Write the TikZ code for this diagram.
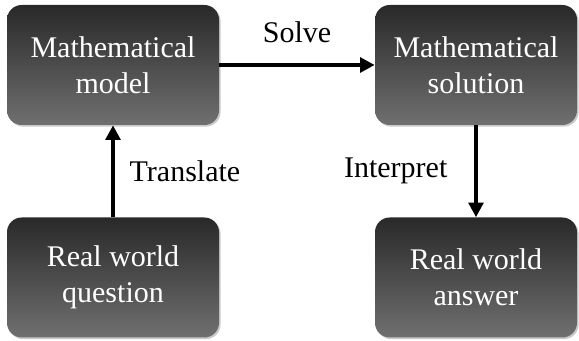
\documentclass[tikz,border=0pt]{standalone}
\usepackage{fontspec}
\setmainfont{Liberation Serif}
\usetikzlibrary{arrows.meta,shadows}
\definecolor{boxdark}{HTML}{1F1F1F}
\definecolor{boxmid}{HTML}{4C4C4C}
\definecolor{boxlight}{HTML}{939393}
\pgfdeclareverticalshading{boxshade}{100bp}{color(0bp)=(boxlight); color(50bp)=(boxmid); color(82bp)=(boxdark); color(100bp)=(boxdark)}
\begin{document}
\begin{tikzpicture}[x=0.75pt,y=-0.75pt,
  stagebox/.style={rounded corners=11pt,shading=boxshade,text=white,align=center,
    minimum height=90pt,inner sep=0pt,font=\fontsize{22.5}{27}\selectfont,
    drop shadow={shadow xshift=1.2pt,shadow yshift=-1.2pt,opacity=0.35,fill=black!60}},
  steplabel/.style={font=\fontsize{22.5}{27}\selectfont,inner sep=0pt},
  flow/.style={line width=3pt,-{Triangle[width=11pt,length=11pt]}}]
\useasboundingbox (0,0) rectangle (579,341);
\node[stagebox,minimum width=159pt] (model) at (113,65) {Mathematical\\model};
\node[stagebox,minimum width=151.5pt] (sol) at (476,65) {Mathematical\\solution};
\node[stagebox,minimum width=159pt] (quest) at (113,277.5) {Real world\\question};
\node[stagebox,minimum width=151.5pt] (ans) at (476,277.5) {Real world\\answer};
\draw[flow] (model.east) -- (sol.west) node[steplabel,midway,above=15pt] (solve) {Solve};
\draw[flow] (quest.north) -- (model.south) node[steplabel,midway,right=11pt] (transl) {Translate};
\draw[flow] (sol.south) -- (ans.north) node[steplabel,midway,left=20pt] (interp) {Interpret};
\end{tikzpicture}
\end{document}
